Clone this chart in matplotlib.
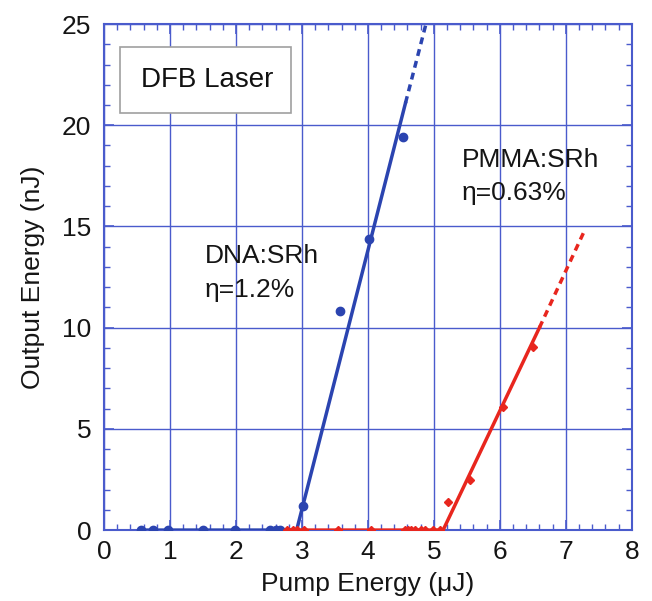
import numpy as np
import matplotlib
matplotlib.use('Agg')
import matplotlib.pyplot as plt
from matplotlib.ticker import MultipleLocator
from matplotlib.patches import Rectangle

plt.rcParams['font.family'] = ['Liberation Sans', 'DejaVu Sans']

# DNA:SRh measurements
dna_x = [0.56, 0.75, 0.97, 1.50, 1.98, 2.52, 2.60, 2.67, 3.02, 3.58, 4.02, 4.53]
dna_y = [0, 0, 0, 0, 0, 0, 0, 0, 1.2, 10.8, 14.4, 19.4]
# DNA:SRh fit (solid) and extrapolation (dashed)
dna_fit_x = [0.56, 2.92, 4.57]
dna_fit_y = [0, 0, 21.1]
dna_ext_x = [4.57, 4.88]
dna_ext_y = [21.1, 25.0]

# PMMA:SRh measurements
pmma_x = [2.77, 2.86, 2.92, 3.03, 3.55, 4.04, 4.56, 4.61, 4.66, 4.71, 4.81,
          4.86, 4.99, 5.09, 5.22, 5.55, 6.05, 6.50]
pmma_y = [0, 0, 0, 0, 0, 0, 0, 0, 0, 0, 0, 0, 0, 0, 1.4, 2.45, 6.1, 9.05]
pmma_fit_x = [2.77, 5.14, 6.60]
pmma_fit_y = [0, 0, 10.0]
pmma_ext_x = [6.60, 7.27]
pmma_ext_y = [10.0, 14.7]

blue = '#2b44b0'
red = '#e8261e'
grid_blue = '#4a5bcc'
txt = '#151515'
fs = 19

fig = plt.figure(figsize=(6.52, 6.01), dpi=100)
ax = fig.add_axes([0.1595, 0.118, 0.8095, 0.842])

ax.plot(dna_fit_x, dna_fit_y, color=blue, lw=2.5, zorder=3)
ax.plot(dna_ext_x, dna_ext_y, color=blue, lw=2.5, ls=(0, (2, 1.5)), zorder=3)
ax.plot(dna_x, dna_y, 'o', color=blue, ms=6, zorder=4)

ax.plot(pmma_fit_x, pmma_fit_y, color=red, lw=2.5, zorder=3)
ax.plot(pmma_ext_x, pmma_ext_y, color=red, lw=2.5, ls=(0, (2, 1.5)), zorder=3)
ax.plot(pmma_x, pmma_y, 'D', color=red, ms=4.5, zorder=4)

ax.set_xlim(0, 8)
ax.set_ylim(0, 25)
ax.xaxis.set_major_locator(MultipleLocator(1))
ax.xaxis.set_minor_locator(MultipleLocator(0.2))
ax.yaxis.set_major_locator(MultipleLocator(5))
ax.yaxis.set_minor_locator(MultipleLocator(1))
ax.grid(True, which='major', color=grid_blue, lw=1.0, zorder=0)
ax.tick_params(which='both', direction='in', top=True, right=True,
               color=grid_blue, labelsize=fs, labelcolor=txt)
ax.tick_params(which='major', length=7, width=1.2)
ax.tick_params(which='minor', length=4, width=1.0)
ax.tick_params(axis='y', pad=9)
ax.tick_params(axis='x', pad=7)
for s in ax.spines.values():
    s.set_color(grid_blue)
    s.set_linewidth(1.5)

ax.set_xlabel('Pump Energy (\u03bcJ)', fontsize=fs, color=txt, labelpad=6)
ax.set_ylabel('Output Energy (nJ)', fontsize=fs, color=txt, labelpad=12)

ax.text(1.53, 13.17, 'DNA:SRh', fontsize=fs, color=txt, va='baseline', ha='left')
ax.text(1.53, 11.53, '\u03b7=1.2%', fontsize=fs, color=txt, va='baseline', ha='left')
ax.text(5.42, 17.95, 'PMMA:SRh', fontsize=fs, color=txt, va='baseline', ha='left')
ax.text(5.42, 16.3, '\u03b7=0.63%', fontsize=fs, color=txt, va='baseline', ha='left')

ax.add_patch(Rectangle((0.242, 20.6), 2.59, 3.25, fc='white', ec='#a0a0a0',
                       lw=1.2, zorder=5))
ax.text(1.57, 21.89, 'DFB Laser', fontsize=20, color='#111111', va='baseline',
        ha='center', zorder=6)

fig.savefig('out.png', dpi=100)
